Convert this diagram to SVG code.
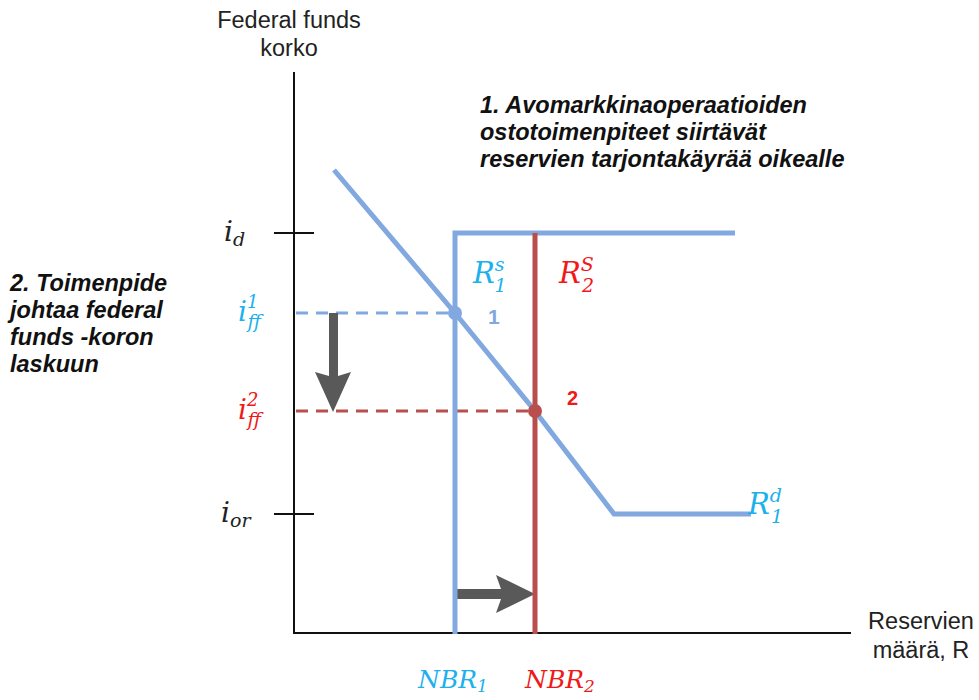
<svg xmlns="http://www.w3.org/2000/svg" width="979" height="700" viewBox="0 0 979 700">
<defs>
<style>
.lab{font-family:"Liberation Sans",Arial,sans-serif;font-size:23.5px;fill:#222}
.note{font-family:"Liberation Sans",Arial,sans-serif;font-size:23.5px;font-weight:bold;font-style:italic;fill:#111}
.m{font-family:"DejaVu Serif","Liberation Serif",serif;font-style:italic}
.blue{fill:#1CB0EC}
.red{fill:#F01818}
.ax{stroke:#111;stroke-width:2;fill:none}
.bl{stroke:#82A8E0;stroke-width:5;fill:none}
.rd{stroke:#B84F4C;stroke-width:5;fill:none}
.arr{fill:#595959}
</style>
</defs>
<g id="axes">
<line class="ax" x1="294" y1="72" x2="294" y2="634"/>
<line class="ax" x1="293" y1="633" x2="851" y2="633"/>
<line class="ax" x1="274" y1="233" x2="314" y2="233"/>
<line class="ax" x1="274" y1="514" x2="314" y2="514"/>
</g>
<g id="connectors">
<line x1="296" y1="313" x2="455" y2="313" stroke="#82A8E0" stroke-width="3" stroke-dasharray="12,8"/>
<line x1="296" y1="411" x2="535" y2="411" stroke="#B84F4C" stroke-width="3" stroke-dasharray="12,8"/>
<path class="arr" d="M329,313 L338,313 L338,376 L351,372 L333,412 L315,372 L329,376 Z"/>
<path class="arr" d="M455,589 L501,589 L496,575 L535,594 L496,613 L501,599 L455,599 Z"/>
</g>
<g id="supply1"><path class="bl" d="M455,634 L455,233 L735,233"/></g>
<g id="supply2"><line class="rd" x1="535" y1="233" x2="535" y2="634"/></g>
<g id="demand"><path class="bl" d="M334,170 L455,313 L535,411 L614,514 L751,514"/></g>
<g id="point1"><circle cx="455" cy="313" r="7" fill="#82A8E0"/><text x="488" y="324" font-family="Liberation Sans,Arial,sans-serif" font-size="21" font-weight="bold" fill="#82A8E0">1</text></g>
<g id="point2"><circle cx="535" cy="411" r="7" fill="#B84F4C"/><text x="567" y="405" font-family="Liberation Sans,Arial,sans-serif" font-size="20" font-weight="bold" fill="#F01818">2</text></g>
<g id="labels">
<text class="lab" x="289" y="28" text-anchor="middle">Federal funds</text>
<text class="lab" x="289" y="56" text-anchor="middle">korko</text>
<text class="lab" x="921" y="629" text-anchor="middle">Reservien</text>
<text class="lab" x="921" y="658" text-anchor="middle">määrä, R</text>
<text class="note" x="480" y="113">1. Avomarkkinaoperaatioiden</text>
<text class="note" x="480" y="140">ostotoimenpiteet siirtävät</text>
<text class="note" x="480" y="167">reservien tarjontakäyrää oikealle</text>
<text class="note" x="10" y="291">2. Toimenpide</text>
<text class="note" x="10" y="318">johtaa federal</text>
<text class="note" x="10" y="345">funds -koron</text>
<text class="note" x="10" y="372">laskuun</text>
<text class="m" x="224" y="241" font-size="28" fill="#222">i<tspan font-size="19" dy="5">d</tspan></text>
<text class="m" x="221" y="522" font-size="28" fill="#222">i<tspan font-size="19" dy="5">or</tspan></text>
<text class="m blue" x="238" y="321" font-size="28">i<tspan font-size="18" dy="-13">1</tspan><tspan font-size="19" dx="-11" dy="20">ff</tspan></text>
<text class="m red" x="238" y="419" font-size="28">i<tspan font-size="18" dy="-13">2</tspan><tspan font-size="19" dx="-11" dy="20">ff</tspan></text>
<text class="m blue" x="473" y="283" font-size="29">R<tspan font-size="19" dy="-12">s</tspan><tspan font-size="19" dx="-10" dy="21">1</tspan></text>
<text class="m red" x="559" y="283" font-size="29">R<tspan font-size="19" dy="-12">S</tspan><tspan font-size="19" dx="-12" dy="21">2</tspan></text>
<text class="m blue" x="748" y="514" font-size="29">R<tspan font-size="19" dy="-12">d</tspan><tspan font-size="19" dx="-11" dy="21">1</tspan></text>
<text class="m blue" x="418" y="688" font-size="25">NBR<tspan font-size="17" dy="4">1</tspan></text>
<text class="m red" x="525" y="688" font-size="25">NBR<tspan font-size="17" dy="4">2</tspan></text>
</g>
</svg>
